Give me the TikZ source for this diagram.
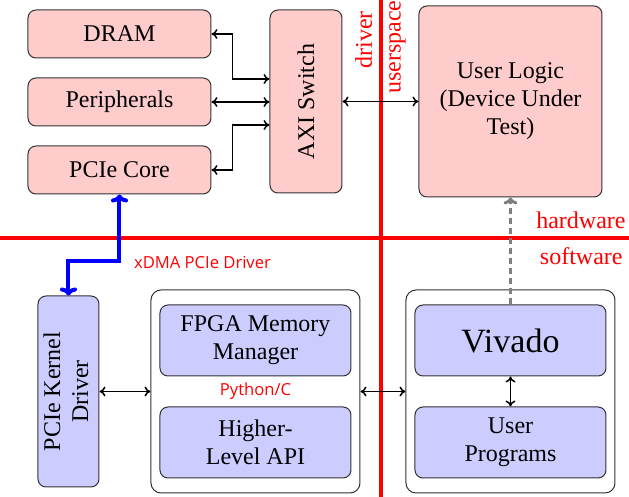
\documentclass[tikz,border=0pt]{standalone}
\usepackage{fontspec}
\setmainfont{Liberation Serif}
\newfontfamily\labelfont{Open Sans}
\usepackage{graphicx}
\usetikzlibrary{calc,arrows.meta}

\begin{document}
\begin{tikzpicture}[x=0.5pt,y=-0.5pt,
    blk/.style={draw=black!80,line width=0.5pt,rounded corners=4pt,inner sep=0pt,align=center,
      font=\fontsize{12}{14}\selectfont},
    hw/.style={blk,fill=red!20},
    sw/.style={blk,fill=blue!20},
    grp/.style={draw=black!80,line width=0.5pt,rounded corners=5pt,fill=white},
    link/.style={{To[length=3pt,width=5pt]}-{To[length=3pt,width=5pt]},line width=0.75pt},
    divider/.style={red,line width=2pt},
    side/.style={red,font=\fontsize{12}{14}\selectfont},
    tag/.style={red,font=\labelfont\fontsize{8.3}{10}\selectfont}]
  \useasboundingbox (0,0) rectangle (629,497);
  \draw[divider] (0,238)--(629,238);
  \draw[divider] (381,0)--(381,497);
  \node[side,rotate=90,anchor=base east] (drv) at (372,4) {driver};
  \node[side,rotate=90,anchor=north east,inner sep=0pt] (usr) at (389,0) {userspace};
  \node[side,anchor=base east,inner sep=0pt] (hwl) at (626,229) {hardware};
  \node[side,anchor=base east,inner sep=0pt] (swl) at (623,265) {software};

  \node[hw,minimum width=91.5pt,minimum height=24pt] (dram) at (119.5,34) {DRAM};
  \node[hw,minimum width=91.5pt,minimum height=24pt] (periph) at (119.5,102) {Peripherals};
  \node[hw,minimum width=91.5pt,minimum height=24pt] (core) at (119.5,170) {PCIe Core};
  \node[hw,minimum width=36pt,minimum height=91.5pt] (axi) at (306,101.5) {\rotatebox{90}{AXI Switch}};
  \node[hw,minimum width=91.5pt,minimum height=95.5pt] (logic) at (510.5,101.5)
    {User Logic\\(Device Under\\Test)};

  \node[sw,minimum width=30.5pt,minimum height=95.5pt] (kernel) at (68.5,391.5)
    {\rotatebox{90}{\begin{tabular}{@{}c@{}}PCIe Kernel\\Driver\end{tabular}}};
  \node[grp,minimum width=104.5pt,minimum height=101.5pt] (pylib) at (255.5,391.5) {};
  \node[sw,minimum width=95.5pt,minimum height=35.5pt] (fpga) at (255.5,340.5) {FPGA Memory\\Manager};
  \node[sw,minimum width=95.5pt,minimum height=35.5pt] (api) at (255.5,442.5) {Higher-\\Level API};
  \node[tag] (lang) at ($(fpga.south)!0.5!(api.north)$) {Python/C};
  \node[grp,minimum width=104.5pt,minimum height=101.5pt] (tools) at (510.5,391.5) {};
  \node[sw,minimum width=95.5pt,minimum height=35.5pt,font=\fontsize{17}{20}\selectfont] (vivado) at (510.5,340.5) {Vivado};
  \node[sw,minimum width=95.5pt,minimum height=35.5pt] (progs) at (510.5,442.5) {User\\Programs};

  \draw[link] (dram.east) -- ++(21,0) |- ($(axi.west)+(0,-22.5)$);
  \draw[link] (periph.east) -- (periph.east -| axi.west);
  \draw[link] (core.east) -- ++(21,0) |- ($(axi.west)+(0,23.5)$);
  \draw[link] (axi.east) -- (axi.east -| logic.west);
  \draw[{To[length=4pt,width=8.5pt]}-{To[length=4pt,width=8.5pt]},blue,line width=2pt]
    (core.south) -- ++(0,67) -| (kernel.north);
  \node[tag] (xdma) at (202.5,262) {xDMA PCIe Driver};
  \draw[link] (kernel.east) -- (pylib.west);
  \draw[link] (pylib.east) -- (tools.west);
  \draw[link] (vivado.south) -- (progs.north);
  \draw[-{To[length=3.5pt,width=7pt]},gray,line width=1.5pt,dash pattern=on 3pt off 2pt]
    (vivado.north) -- (logic.south);
\end{tikzpicture}
\end{document}
